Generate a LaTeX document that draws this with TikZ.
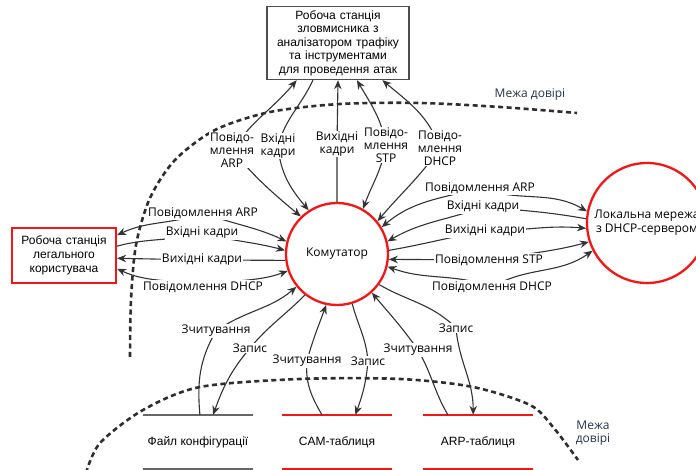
\documentclass[tikz,border=0pt]{standalone}
\usepackage{fontspec}
\setmainfont{Liberation Sans}
\newfontfamily\lblfont{Open Sans}
\usetikzlibrary{arrows.meta, shapes.geometric, positioning}

\definecolor{lineC}{HTML}{333333}
\definecolor{redC}{HTML}{F21616}
\definecolor{boxC}{HTML}{4D4D4D}
\definecolor{cfgC}{HTML}{666666}
\definecolor{trustC}{HTML}{2E2E2E}
\definecolor{noteC}{HTML}{26324A}

\begin{document}
\begin{tikzpicture}[
    x=1pt, y=1pt,
    box/.style={rectangle, draw=boxC, line width=1.4pt, fill=white, text width=134pt, align=center, minimum width=142pt, minimum height=73pt, inner sep=2pt, font=\fontsize{12}{13.5}\selectfont},
    hub/.style={circle, draw=redC, line width=2.3pt, fill=white, align=center, font=\lblfont\fontsize{12}{14}\selectfont},
    store/.style={rectangle, minimum width=110pt, minimum height=54pt, font=\fontsize{12}{14}\selectfont},
    lbl/.style={fill=white, inner sep=1pt, align=center, font=\lblfont\fontsize{12}{13}\selectfont},
    note/.style={align=center, text=noteC, font=\lblfont\fontsize{12}{13}\selectfont},
    arrow/.style={draw=lineC, line width=1.1pt, >={Stealth[length=9pt, width=7.5pt]}},
    trust/.style={draw=trustC, line width=2.6pt, dash pattern=on 5pt off 3.5pt}
]
\useasboundingbox (0,0) rectangle (696,470);

% trust boundaries
\draw[trust] plot[smooth] coordinates {(130,113) (131,170) (136,225) (150,272) (175,310) (215,340) (270,358) (340,366) (420,367) (500,363) (577,357)};
\node[note] (trustTop) at (530,375) {Межа довірі};
\draw[trust] plot[smooth] coordinates {(86,-3) (100,27) (143,60) (200,83) (300,91) (400,91) (473,83) (530,65) (553,43) (578,10)};
\node[note] (trustBot) at (593,37) {Межа\\довірі};

% main nodes
\node (att) [box] at (338,427) {Робоча станція\\зловмисника з\\аналізатором трафіку\\та інструментами\\для проведення атак};
\node (sw) [hub, minimum size=102pt] at (337,216) {Комутатор};
\node (legit) [box, draw=redC, line width=2.3pt, text width=96pt, minimum width=104pt, minimum height=55pt, font=\fontsize{12}{14}\selectfont] at (64,214.5) {Робоча станція\\легального\\користувача};
\node (lan) [hub, minimum size=120pt] at (647,247) {Локальна мережа\\з DHCP-сервером};

% data stores
\node (cfg) [store] at (198,28) {Файл конфігурації};
\node (cam) [store] at (337,28) {CAM-таблиця};
\node (arp) [store] at (478,28) {ARP-таблиця};
\draw[cfgC, line width=2pt] (cfg.north west) -- (cfg.north east) (cfg.south west) -- (cfg.south east);
\draw[redC, line width=2pt] (cam.north west) -- (cam.north east) (cam.south west) -- (cam.south east);
\draw[redC, line width=2pt] (arp.north west) -- (arp.north east) (arp.south west) -- (arp.south east);

% switch <-> attacker
\draw[arrow,<->] (sw.134) to[out=140,in=-50] (232,320) node[lbl] {Повідо-\\млення\\ARP} to[out=55,in=-130] (att.222);
\draw[arrow,<-] (sw.123) to[out=130,in=-85] (278,324) node[lbl] {Вхідні\\кадри} to[out=75,in=-115] (att.236);
\draw[arrow,->] (sw.90) -- (337,326) node[lbl] {Вихідні\\кадри} -- (att.270);
\draw[arrow,<->] (sw.60) to[out=70,in=-100] (386,325) node[lbl] {Повідо-\\млення\\STP} to[out=100,in=-60] (att.297);
\draw[arrow,<->] (sw.39) to[out=50,in=-125] (440,322) node[lbl] {Повідо-\\млення\\DHCP} to[out=110,in=-40] (att.320);

% switch <-> legit user
\draw[arrow,<->] (sw.166) to[out=155,in=-20] (203,257) node[lbl] {Повідомлення ARP} to[out=200,in=25] (legit.21);
\draw[arrow,<-] (sw.176) to[out=165,in=-15] (202,237) node[lbl] {Вхідні кадри} to[out=195,in=15] (legit.10);
\draw[arrow,->] (sw.187) -- (202,210) node[lbl] {Вихідні кадри} -- (legit.-3);
\draw[arrow,<->] (sw.199) to[out=200,in=15] (203,183) node[lbl] {Повідомлення DHCP} to[out=165,in=-25] (legit.-14);

% switch <-> LAN
\draw[arrow,<->] (sw.31) to[out=40,in=195] (480,282) node[lbl] {Повідомлення ARP} to[out=-20,in=150] (lan.169);
\draw[arrow,<-] (sw.14) to[out=30,in=200] (483,263) node[lbl] {Вхідні кадри} to[out=-5,in=170] (lan.176);
\draw[arrow,->] (sw.4) to[out=10,in=190] (485,239) node[lbl] {Вихідні кадри} to[out=0,in=175] (lan.185);
\draw[arrow,<->] (sw.-6) to[out=0,in=180] (489,210) node[lbl] {Повідомлення STP} to[out=10,in=195] (lan.198);
\draw[arrow,<->] (sw.-14) to[out=-20,in=160] (492,183) node[lbl] {Повідомлення DHCP} to[out=30,in=215] (lan.207);

% switch <-> stores
\draw[arrow,->] (cfg.86) to[out=95,in=-120] (216,139) node[lbl] {Зчитування} to[out=35,in=220] (sw.219);
\draw[arrow,->] (sw.232) to[out=225,in=50] (250,122) node[lbl] {Запис} to[out=230,in=70] (cfg.61);
\draw[arrow,->] (cam.119) to[out=120,in=-95] (307,109) node[lbl] {Зчитування} to[out=75,in=250] (sw.258);
\draw[arrow,->] (sw.287) to[out=285,in=95] (368,109) node[lbl] {Запис} to[out=265,in=70] (cam.56);
\draw[arrow,->] (arp.138) to[out=120,in=-60] (418,120) node[lbl] {Зчитування} to[out=125,in=-50] (sw.312);
\draw[arrow,->] (sw.324) to[out=-30,in=135] (456,142) node[lbl] {Запис} to[out=-85,in=90] (arp.100);

\end{tikzpicture}
\end{document}
